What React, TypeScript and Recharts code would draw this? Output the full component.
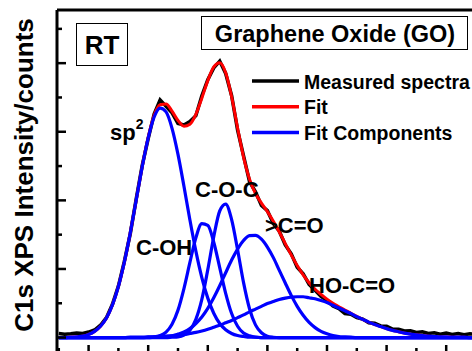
import React from 'react'
import { LineChart, Line, XAxis, YAxis, ReferenceLine } from 'recharts'

// binding energy grid (eV)
const energy = [
  282.5, 282.6, 282.7, 282.8, 282.9, 283.0, 283.1, 283.2, 283.3, 283.4,
  283.5, 283.6, 283.7, 283.8, 283.9, 284.0, 284.1, 284.2, 284.3, 284.4,
  284.5, 284.6, 284.7, 284.8, 284.9, 285.0, 285.1, 285.2, 285.3, 285.4,
  285.5, 285.6, 285.7, 285.8, 285.9, 286.0, 286.1, 286.2, 286.3, 286.4,
  286.5, 286.6, 286.7, 286.8, 286.9, 287.0, 287.1, 287.2, 287.3, 287.4,
  287.5, 287.6, 287.7, 287.8, 287.9, 288.0, 288.1, 288.2, 288.3, 288.4,
  288.5, 288.6, 288.7, 288.8, 288.9, 289.0, 289.1, 289.2, 289.3, 289.4,
  289.5,
]

const measured = [
  0.12, 0.1, 0.11, 0.13, 0.12, 0.16, 0.22, 0.36, 0.58, 0.97,
  1.5, 2.22, 3.03, 4.05, 5.02, 5.8, 6.52, 6.93, 6.74, 6.55,
  6.24, 6.2, 6.3, 6.47, 7.05, 7.52, 7.86, 8.06, 7.7, 7.05,
  6.05, 5.3, 4.55, 4.25, 3.85, 3.7, 3.32, 3.1, 2.7, 2.44,
  2.05, 1.86, 1.55, 1.38, 1.2, 1.08, 0.92, 0.84, 0.7, 0.68,
  0.58, 0.54, 0.43, 0.42, 0.34, 0.33, 0.25, 0.24, 0.19, 0.2,
  0.15, 0.17, 0.12, 0.14, 0.1, 0.13, 0.09, 0.12, 0.08, 0.11,
  0.09,
]

const fit = [
  0, 0, 0.01, 0.02, 0.04, 0.09, 0.18, 0.33, 0.57, 0.95,
  1.49, 2.2, 3.06, 4.02, 4.99, 5.84, 6.48, 6.79, 6.81, 6.6,
  6.33, 6.16, 6.22, 6.51, 6.98, 7.49, 7.89, 8.01, 7.72, 7.02,
  6.11, 5.26, 4.62, 4.2, 3.92, 3.67, 3.39, 3.08, 2.74, 2.41,
  2.1, 1.83, 1.6, 1.41, 1.26, 1.12, 1.0, 0.9, 0.8, 0.71,
  0.62, 0.53, 0.45, 0.38, 0.32, 0.26, 0.21, 0.17, 0.13, 0.1,
  0.08, 0.06, 0.04, 0.03, 0.02, 0.02, 0.01, 0.01, 0.01, 0,
  0,
]

// fit components
const sp2 = [
  0, 0, 0.01, 0.02, 0.04, 0.09, 0.18, 0.33, 0.57, 0.95,
  1.49, 2.2, 3.06, 4.02, 4.98, 5.82, 6.43, 6.69, 6.58, 6.1,
  5.34, 4.41, 3.43, 2.52, 1.75, 1.15, 0.71, 0.41, 0.23, 0.12,
  0.06, 0.03, 0.01, 0.01, 0, 0, 0, 0, 0, 0,
  0, 0, 0, 0, 0, 0, 0, 0, 0, 0,
  0, 0, 0, 0, 0, 0, 0, 0, 0, 0,
  0, 0, 0, 0, 0, 0, 0, 0, 0, 0,
  0,
]

const cOH = [
  0, 0, 0, 0, 0, 0, 0, 0, 0, 0,
  0, 0, 0, 0, 0, 0.01, 0.02, 0.06, 0.16, 0.39,
  0.8, 1.43, 2.19, 2.91, 3.32, 3.27, 2.78, 2.04, 1.29, 0.7,
  0.33, 0.13, 0.05, 0.01, 0, 0, 0, 0, 0, 0,
  0, 0, 0, 0, 0, 0, 0, 0, 0, 0,
  0, 0, 0, 0, 0, 0, 0, 0, 0, 0,
  0, 0, 0, 0, 0, 0, 0, 0, 0, 0,
  0,
]

const cOC = [
  0, 0, 0, 0, 0, 0, 0, 0, 0, 0,
  0, 0, 0, 0, 0, 0, 0, 0, 0, 0.01,
  0.02, 0.07, 0.21, 0.53, 1.11, 1.98, 2.94, 3.69, 3.89, 3.44,
  2.56, 1.6, 0.84, 0.37, 0.14, 0.04, 0.01, 0, 0, 0,
  0, 0, 0, 0, 0, 0, 0, 0, 0, 0,
  0, 0, 0, 0, 0, 0, 0, 0, 0, 0,
  0, 0, 0, 0, 0, 0, 0, 0, 0, 0,
  0,
]

const carbonyl = [
  0, 0, 0, 0, 0, 0, 0, 0, 0, 0,
  0, 0, 0, 0, 0, 0, 0.01, 0.02, 0.03, 0.05,
  0.1, 0.16, 0.26, 0.41, 0.6, 0.85, 1.16, 1.51, 1.89, 2.26,
  2.58, 2.83, 2.97, 2.98, 2.87, 2.64, 2.33, 1.96, 1.59, 1.23,
  0.91, 0.65, 0.44, 0.29, 0.18, 0.11, 0.06, 0.03, 0.02, 0.01,
  0, 0, 0, 0, 0, 0, 0, 0, 0, 0,
  0, 0, 0, 0, 0, 0, 0, 0, 0, 0,
  0,
]

const carboxyl = [
  0, 0, 0, 0, 0, 0, 0, 0, 0, 0,
  0, 0, 0.01, 0.01, 0.01, 0.02, 0.02, 0.03, 0.04, 0.05,
  0.07, 0.09, 0.12, 0.15, 0.19, 0.24, 0.3, 0.36, 0.43, 0.5,
  0.58, 0.66, 0.75, 0.83, 0.91, 0.99, 1.05, 1.11, 1.15, 1.18,
  1.19, 1.19, 1.16, 1.13, 1.08, 1.02, 0.94, 0.86, 0.78, 0.7,
  0.61, 0.53, 0.45, 0.38, 0.32, 0.26, 0.21, 0.17, 0.13, 0.1,
  0.08, 0.06, 0.04, 0.03, 0.02, 0.02, 0.01, 0.01, 0.01, 0,
  0,
]

const componentKeys = ['sp2', 'cOH', 'cOC', 'carbonyl', 'carboxyl']

const xTicks = [282.5, 283, 283.5, 284, 284.5, 285, 285.5, 286, 286.5, 287, 287.5, 288, 288.5, 289, 289.5]
const yTicks = [0, 1, 2, 3, 4, 5, 6, 7, 8, 9]

const legendItems = [
  { label: 'Measured spectra', color: '#000000' },
  { label: 'Fit', color: '#ff0000' },
  { label: 'Fit Components', color: '#0000ff' },
]

const peakLabels = [
  { text: 'C-OH', x: 136, y: 255 },
  { text: 'C-O-C', x: 195, y: 197 },
  { text: '>C=O', x: 265, y: 233 },
  { text: 'HO-C=O', x: 309, y: 293 },
]

const rows = energy.map((e, i) => ({
  energy: e,
  measured: measured[i],
  fit: fit[i],
  sp2: sp2[i],
  cOH: cOH[i],
  cOC: cOC[i],
  carbonyl: carbonyl[i],
  carboxyl: carboxyl[i],
}))

const FONT = '"Liberation Sans", Arial, Helvetica, sans-serif'

// inward ticks, long on the even counts
const YTick = ({ x, y, payload }: any) => {
  const len = payload.value % 2 === 0 ? 9 : 5
  return <line x1={x} y1={y} x2={x + len} y2={y} stroke="#000" strokeWidth={2.5} />
}

// inward ticks, long on whole eV
const XTick = ({ x, y, payload }: any) => {
  const len = Number.isInteger(payload.value) ? 8 : 5
  return <line x1={x} y1={y} x2={x} y2={y - len} stroke="#000" strokeWidth={2.5} />
}

export default function App() {
  return (
    <div style={{ position: 'fixed', left: 0, top: 0, width: 472, height: 351, overflow: 'hidden', background: '#fff' }}>
      <LineChart
        width={476}
        height={362}
        data={rows}
        margin={{ top: 10, right: 0, bottom: 0, left: 0 }}
      >
        <XAxis
          dataKey="energy"
          type="number"
          domain={[282.47, 289.5]}
          ticks={xTicks}
          interval={0}
          allowDataOverflow
          height={9}
          tickSize={0}
          tickMargin={0}
          tickLine={false}
          tick={<XTick />}
          axisLine={{ stroke: '#000', strokeWidth: 3 }}
        />
        <YAxis
          type="number"
          domain={[-0.45, 9.55]}
          ticks={yTicks}
          interval={0}
          allowDataOverflow
          width={57}
          tickSize={0}
          tickMargin={0}
          tickLine={false}
          tick={<YTick />}
          axisLine={{ stroke: '#000', strokeWidth: 3 }}
        />
        <ReferenceLine y={9.55} stroke="#000" strokeWidth={3} />
        <Line
          dataKey="measured"
          type="linear"
          stroke="#000"
          strokeWidth={3.5}
          dot={false}
          activeDot={false}
          isAnimationActive={false}
        />
        <Line
          dataKey="fit"
          type="monotone"
          stroke="#ff0000"
          strokeWidth={3}
          dot={false}
          activeDot={false}
          isAnimationActive={false}
        />
        {componentKeys.map(k => (
          <Line
            key={k}
            dataKey={k}
            type="monotone"
            stroke="#0000ff"
            strokeWidth={3.2}
            dot={false}
            activeDot={false}
            isAnimationActive={false}
          />
        ))}
      </LineChart>
      <svg
        width={472}
        height={351}
        style={{ position: 'absolute', left: 0, top: 0, pointerEvents: 'none' }}
        fontFamily={FONT}
        fontWeight="bold"
      >
        <text x={33} y={175} transform="rotate(-90 33 175)" textAnchor="middle" fontSize={26}>
          C1s XPS Intensity/counts
        </text>

        <rect x={76.5} y={23.5} width={51} height={42} fill="#fff" stroke="#000" strokeWidth={1} />
        <text x={102} y={53.5} textAnchor="middle" fontSize={26}>RT</text>

        <rect x={201.5} y={16.5} width={266} height={33} fill="#fff" stroke="#000" strokeWidth={1} />
        <text x={335} y={41.5} textAnchor="middle" fontSize={23.5}>Graphene Oxide (GO)</text>

        {legendItems.map((item, i) => (
          <g key={item.label}>
            <line x1={252} x2={299} y1={81 + i * 25.7} y2={81 + i * 25.7} stroke={item.color} strokeWidth={3.5} />
            <text x={304} y={88.5 + i * 25.7} fontSize={19.5}>{item.label}</text>
          </g>
        ))}

        <text x={110} y={140} fontSize={22}>
          sp<tspan fontSize={14} dy={-11}>2</tspan>
        </text>
        {peakLabels.map(l => (
          <text key={l.text} x={l.x} y={l.y} fontSize={22}>{l.text}</text>
        ))}
      </svg>
    </div>
  )
}
